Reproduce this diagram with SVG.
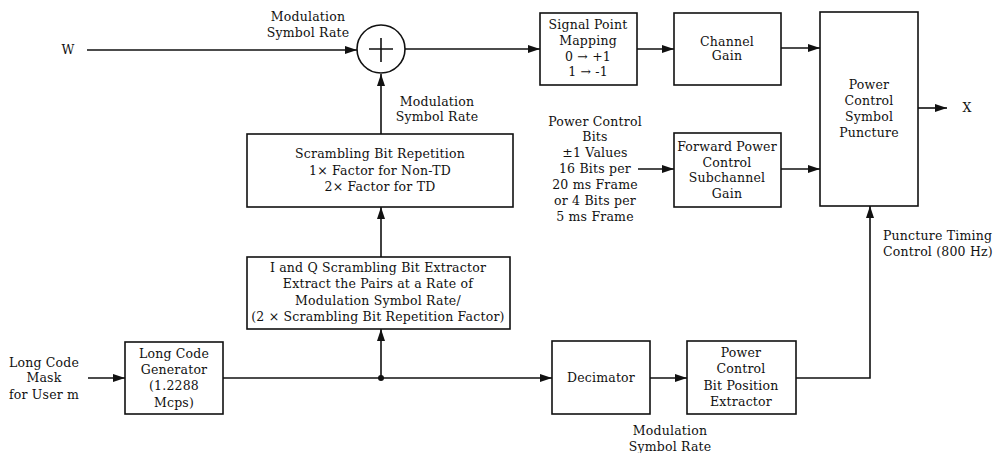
<svg xmlns="http://www.w3.org/2000/svg" width="993" height="453" viewBox="0 0 993 453">
  <style>
    .box { fill: #fff; stroke: #111; stroke-width: 1.6; }
    .wire { fill: none; stroke: #111; stroke-width: 1.6; }
    text { font-family: "DejaVu Serif", "Liberation Serif", serif; font-size: 12.5px; letter-spacing: 0.2px; fill: #111; }
    .c { text-anchor: middle; }
    .l { text-anchor: start; }
  </style>
  <defs>
    <marker id="arr" viewBox="0 0 12 10" refX="12" refY="5" markerWidth="12" markerHeight="10" markerUnits="userSpaceOnUse" orient="auto">
      <path d="M0,1 L12,5 L0,9 Z" fill="#111"/>
    </marker>
  </defs>
  <rect width="993" height="453" fill="#fff"/>

  <!-- connectors -->
  <g id="connectors">
    <path class="wire" d="M87,50 H357" marker-end="url(#arr)"/>
    <path class="wire" d="M405,49 H540" marker-end="url(#arr)"/>
    <path class="wire" d="M637,49 H674" marker-end="url(#arr)"/>
    <path class="wire" d="M781,48 H820" marker-end="url(#arr)"/>
    <path class="wire" d="M918,108 H947" marker-end="url(#arr)"/>
    <path class="wire" d="M638,169 H674" marker-end="url(#arr)"/>
    <path class="wire" d="M781,169 H820" marker-end="url(#arr)"/>
    <path class="wire" d="M381,134 V74" marker-end="url(#arr)"/>
    <path class="wire" d="M381,257 V207" marker-end="url(#arr)"/>
    <path class="wire" d="M381,378 V329" marker-end="url(#arr)"/>
    <path class="wire" d="M88,378 H125" marker-end="url(#arr)"/>
    <path class="wire" d="M223,378 H552" marker-end="url(#arr)"/>
    <path class="wire" d="M650,378 H687" marker-end="url(#arr)"/>
    <path class="wire" d="M796,378 H870 V206" marker-end="url(#arr)"/>
    <circle cx="381" cy="378" r="3" fill="#111"/>
  </g>

  <!-- free labels -->
  <g id="labels">
    <text class="c" x="68" y="54">W</text>
    <text class="c" x="308" y="21">Modulation</text>
    <text class="c" x="308" y="37">Symbol Rate</text>
    <text class="c" x="437" y="106">Modulation</text>
    <text class="c" x="437" y="121">Symbol Rate</text>
    <text class="c" x="44" y="367">Long Code</text>
    <text class="c" x="44" y="382">Mask</text>
    <text class="c" x="44" y="399">for User m</text>
    <text class="c" x="595" y="126">Power Control</text>
    <text class="c" x="595" y="141">Bits</text>
    <text class="c" x="595" y="157">±1 Values</text>
    <text class="c" x="595" y="173">16 Bits per</text>
    <text class="c" x="595" y="189">20 ms Frame</text>
    <text class="c" x="595" y="205">or 4 Bits per</text>
    <text class="c" x="595" y="221">5 ms Frame</text>
    <text class="l" x="883" y="240">Puncture Timing</text>
    <text class="l" x="883" y="256">Control (800 Hz)</text>
    <text class="c" x="670" y="435">Modulation</text>
    <text class="c" x="670" y="451">Symbol Rate</text>
    <text class="c" x="967" y="112">X</text>
  </g>

  <!-- modulo-2 adder -->
  <g id="adder">
    <circle cx="381" cy="49" r="24" class="box"/>
    <path class="wire" d="M369,49 H393 M381,38 V62"/>
  </g>

  <g id="signal-point-mapping">
    <rect class="box" x="540" y="13" width="97" height="72"/>
    <text class="c" x="588" y="29">Signal Point</text>
    <text class="c" x="588" y="45">Mapping</text>
    <text class="c" x="588" y="61">0 → +1</text>
    <text class="c" x="588" y="76">1 → -1</text>
  </g>

  <g id="channel-gain">
    <rect class="box" x="674" y="13" width="107" height="72"/>
    <text class="c" x="727" y="46">Channel</text>
    <text class="c" x="727" y="60">Gain</text>
  </g>

  <g id="puncture">
    <rect class="box" x="820" y="12" width="98" height="194"/>
    <text class="c" x="869" y="89">Power</text>
    <text class="c" x="869" y="105">Control</text>
    <text class="c" x="869" y="121">Symbol</text>
    <text class="c" x="869" y="137">Puncture</text>
  </g>

  <g id="fwd-pc-gain">
    <rect class="box" x="674" y="133" width="107" height="74"/>
    <text class="c" x="727" y="151">Forward Power</text>
    <text class="c" x="727" y="167">Control</text>
    <text class="c" x="727" y="182">Subchannel</text>
    <text class="c" x="727" y="198">Gain</text>
  </g>

  <g id="scrambling-repetition">
    <rect class="box" x="247" y="134" width="266" height="73"/>
    <text class="c" x="380" y="158">Scrambling Bit Repetition</text>
    <text class="c" x="380" y="175">1× Factor for Non-TD</text>
    <text class="c" x="380" y="191">2× Factor for TD</text>
  </g>

  <g id="iq-extractor">
    <rect class="box" x="247" y="257" width="263" height="72"/>
    <text class="c" x="378" y="272">I and Q Scrambling Bit Extractor</text>
    <text class="c" x="378" y="288">Extract the Pairs at a Rate of</text>
    <text class="c" x="378" y="305">Modulation Symbol Rate/</text>
    <text class="c" x="378" y="321">(2 × Scrambling Bit Repetition Factor)</text>
  </g>

  <g id="long-code-generator">
    <rect class="box" x="125" y="342" width="98" height="72"/>
    <text class="c" x="174" y="358">Long Code</text>
    <text class="c" x="174" y="374">Generator</text>
    <text class="c" x="174" y="390">(1.2288</text>
    <text class="c" x="174" y="407">Mcps)</text>
  </g>

  <g id="decimator">
    <rect class="box" x="552" y="341" width="98" height="73"/>
    <text class="c" x="601" y="382">Decimator</text>
  </g>

  <g id="bit-position-extractor">
    <rect class="box" x="687" y="341" width="109" height="73"/>
    <text class="c" x="741" y="357">Power</text>
    <text class="c" x="741" y="373">Control</text>
    <text class="c" x="741" y="390">Bit Position</text>
    <text class="c" x="741" y="406">Extractor</text>
  </g>
</svg>
